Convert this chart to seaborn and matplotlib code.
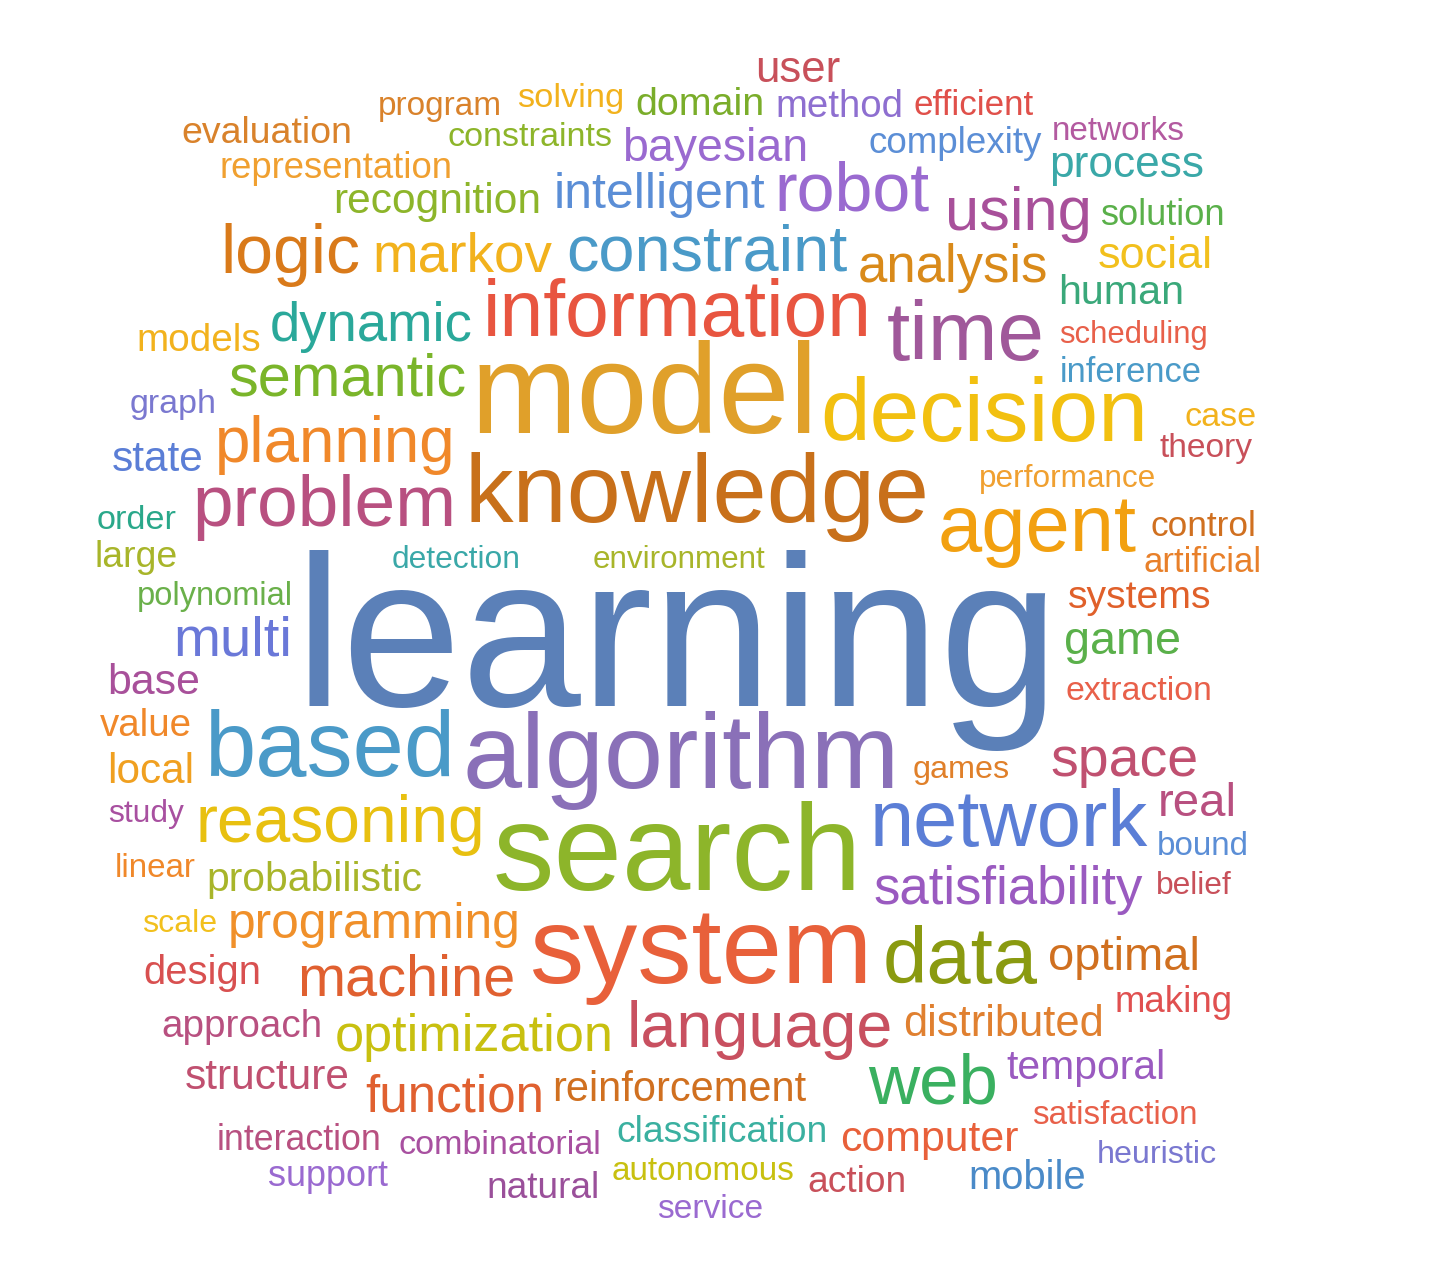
import matplotlib
matplotlib.use("Agg")
import matplotlib.pyplot as plt
import seaborn as sns

# --- word cloud data: word, layout centre (px), rendered width (px), colour ---
words = ["user", "program", "solving", "domain", "method", "efficient", "evaluation", "constraints",
         "bayesian", "complexity", "networks", "representation", "process", "intelligent", "robot",
         "recognition", "using", "solution", "logic", "markov", "constraint", "analysis", "social",
         "human", "information", "time", "models", "dynamic", "scheduling", "semantic", "model",
         "inference", "graph", "decision", "case", "planning", "state", "theory", "knowledge",
         "problem", "performance", "agent", "order", "control", "large", "detection", "environment",
         "artificial", "polynomial", "systems", "learning", "multi", "game", "base", "extraction",
         "value", "based", "algorithm", "local", "games", "space", "study", "reasoning", "real",
         "network", "bound", "search", "linear", "probabilistic", "satisfiability", "belief", "scale",
         "programming", "system", "data", "design", "machine", "optimal", "making", "approach",
         "optimization", "language", "distributed", "structure", "function", "reinforcement", "web",
         "temporal", "satisfaction", "interaction", "combinatorial", "classification", "computer",
         "heuristic", "support", "autonomous", "natural", "action", "mobile", "service"]
xs = [798, 440, 571, 700, 839, 974, 267, 530, 715, 955, 1118, 336, 1127, 659, 852, 437, 1018, 1162,
      290, 462, 707, 953, 1155, 1121, 677, 966, 199, 371, 1134, 347, 644, 1131, 173, 984, 1221, 335,
      158, 1206, 697, 324, 1068, 1037, 137, 1203, 136, 456, 679, 1203, 215, 1140, 677, 233, 1123, 154,
      1139, 146, 330, 681, 151, 961, 1124, 146, 340, 1197, 1009, 1203, 677, 155, 314, 1008, 1194, 180,
      374, 701, 960, 202, 406, 1124, 1174, 242, 474, 760, 1004, 267, 455, 679, 933, 1086, 1115, 299,
      500, 722, 929, 1157, 328, 703, 543, 857, 1027, 710]
ys = [70, 106, 98, 105, 107, 105, 133, 137, 149, 143, 131, 168, 165, 195, 192, 202, 214, 215, 255, 257,
      253, 268, 256, 293, 315, 338, 341, 327, 335, 380, 400, 372, 404, 418, 417, 445, 460, 448, 497, 507,
      479, 530, 520, 526, 557, 560, 560, 562, 596, 598, 650, 641, 642, 683, 691, 726, 752, 760, 772, 770,
      762, 814, 825, 804, 825, 846, 858, 868, 880, 890, 886, 924, 925, 955, 962, 973, 980, 958, 1002,
      1027, 1037, 1030, 1024, 1078, 1098, 1090, 1085, 1068, 1115, 1140, 1145, 1132, 1140, 1155, 1177,
      1172, 1188, 1182, 1178, 1210]
widths = [85, 124, 107, 129, 128, 120, 171, 165, 186, 174, 133, 233, 155, 212, 155, 208, 147, 125, 140,
          180, 281, 190, 115, 126, 389, 158, 125, 203, 148, 238, 348, 142, 87, 328, 72, 241, 92, 93, 465,
          264, 177, 199, 80, 106, 83, 129, 173, 118, 156, 144, 765, 119, 117, 93, 147, 92, 251, 437, 87,
          97, 148, 76, 290, 79, 278, 92, 369, 81, 215, 270, 76, 75, 292, 343, 155, 118, 218, 152, 118,
          161, 279, 266, 201, 165, 179, 254, 130, 159, 166, 165, 203, 211, 178, 120, 120, 183, 113, 99,
          118, 106]
colors = ["#c8505a", "#d9822b", "#f2b21d", "#7aad2a", "#8e6fd0", "#e0504a", "#d9822b", "#8db52a",
          "#9a6ad0", "#5b8ed6", "#b35aa0", "#f0a030", "#3aa8a8", "#5b8ed6", "#9a6ad0", "#8db52a",
          "#a8509a", "#5ab04a", "#d97a1a", "#f2b21d", "#4a9ac8", "#d98a1a", "#f2c01d", "#3aa87a",
          "#e85540", "#a0589a", "#f2b21d", "#2aa89a", "#e8604a", "#7ab52a", "#e0a02a", "#4a9ac8",
          "#7a78d0", "#f2c010", "#f2b21d", "#f0882a", "#5b7ed6", "#c8505a", "#c8701a", "#b85080",
          "#f0a030", "#f2a010", "#2aa88a", "#d07020", "#a8b52a", "#3aa8a8", "#a8b52a", "#e8802a",
          "#6ab04a", "#e0602a", "#5b80b8", "#6a78d8", "#5ab04a", "#a8509a", "#e8604a", "#f0882a",
          "#4a9ac8", "#8a70b8", "#f0a020", "#e0802a", "#c05070", "#a850a0", "#e8c010", "#b85080",
          "#5b7ed6", "#5b8ed6", "#8db52a", "#f0882a", "#a8b52a", "#9a5ac0", "#c8505a", "#f2c01d",
          "#f0902a", "#e8603a", "#8a9a10", "#d85050", "#e06030", "#d07020", "#e05050", "#b85080",
          "#c8c010", "#c85060", "#e08030", "#c05070", "#e06030", "#d07020", "#3ab060", "#9a5ac0",
          "#e8604a", "#b85080", "#a850a0", "#3ab0a0", "#e8603a", "#7a78d0", "#9a6ad0", "#c8c010",
          "#9a509a", "#c8505a", "#4a8ac8", "#9a6ad0"]

sns.set_style("white")
plt.rcParams['font.family'] = ['Liberation Sans', 'DejaVu Sans']

fig = plt.figure(figsize=(14.5, 12.88), dpi=100)
ax = fig.add_axes([0, 0, 1, 1])
ax.set_xlim(0, 1450)
ax.set_ylim(1288, 0)
ax.axis("off")

renderer = fig.canvas.get_renderer()
for w, x, y, wd, c in zip(words, xs, ys, widths, colors):
    t = ax.text(x, y, w, ha="center", va="center", fontsize=100, color=c)
    # scale font so that the word reaches its measured width
    cur = t.get_window_extent(renderer=renderer).width
    t.set_fontsize(100 * wd / cur)

fig.savefig("out.png", dpi=100, facecolor="white")
